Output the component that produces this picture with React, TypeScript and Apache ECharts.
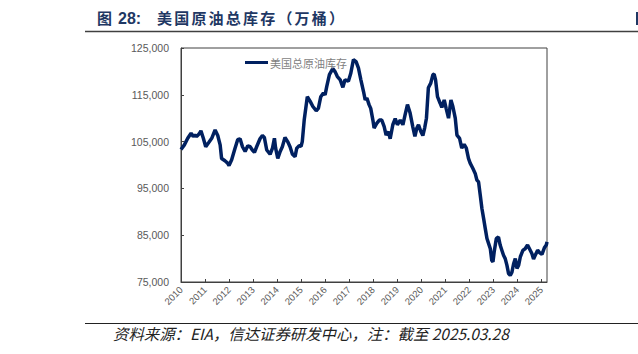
import React, { useEffect, useRef } from "react";
import * as echarts from "echarts";

const seriesName = "美国总原油库存";
const titlePrefix = "图";
const titleNumber = "28:";
const titleBody = "美国原油总库存（万桶）";
const footerText = "资料来源：EIA，信达证券研发中心，注：截至 2025.03.28";

const yTicks = { min: 75000, max: 125000, interval: 10000 };
const xRange = { min: 2010, max: 2025.24, interval: 1 };

// decimal year
const dates = [
  2010.0, 2010.14, 2010.28, 2010.42, 2010.51, 2010.58, 2010.65, 2010.75, 2010.83, 2010.93,
  2011.03, 2011.17, 2011.28, 2011.42, 2011.53, 2011.63, 2011.69, 2011.83, 2011.94, 2012.0,
  2012.11, 2012.25, 2012.36, 2012.46, 2012.56, 2012.67, 2012.78, 2012.88, 2012.97, 2013.06,
  2013.15, 2013.29, 2013.39, 2013.47, 2013.57, 2013.71, 2013.81, 2013.89, 2013.94, 2014.03,
  2014.13, 2014.22, 2014.33, 2014.44, 2014.54, 2014.64, 2014.75, 2014.82, 2014.92, 2015.0,
  2015.05, 2015.13, 2015.26, 2015.38, 2015.49, 2015.63, 2015.72, 2015.82, 2015.93, 2016.0,
  2016.07, 2016.18, 2016.32, 2016.42, 2016.51, 2016.63, 2016.74, 2016.83, 2016.97, 2017.07,
  2017.18, 2017.29, 2017.39, 2017.49, 2017.6, 2017.67, 2017.74, 2017.83, 2017.9, 2017.99,
  2018.04, 2018.15, 2018.26, 2018.36, 2018.46, 2018.54, 2018.64, 2018.71, 2018.82, 2018.92,
  2019.01, 2019.13, 2019.24, 2019.33, 2019.43, 2019.54, 2019.65, 2019.74, 2019.82, 2019.89,
  2019.99, 2020.07, 2020.15, 2020.22, 2020.3, 2020.4, 2020.49, 2020.54, 2020.6, 2020.68,
  2020.79, 2020.86, 2020.96, 2021.04, 2021.14, 2021.24, 2021.32, 2021.42, 2021.49, 2021.6,
  2021.69, 2021.79, 2021.88, 2021.97, 2022.04, 2022.15, 2022.25, 2022.32, 2022.39, 2022.46,
  2022.53, 2022.6, 2022.67, 2022.74, 2022.81, 2022.88, 2022.94, 2022.99, 2023.04, 2023.13,
  2023.22, 2023.29, 2023.36, 2023.43, 2023.5, 2023.57, 2023.64, 2023.71, 2023.78, 2023.85,
  2023.92, 2023.99, 2024.06, 2024.13, 2024.24, 2024.33, 2024.43, 2024.51, 2024.61, 2024.68,
  2024.75, 2024.85, 2024.93, 2025.03, 2025.13, 2025.21, 2025.24,
];

// 万桶
const stocks = [
  103300, 104300, 105700, 106800, 106100, 106400, 106100, 106600, 107300, 105700,
  103900, 104900, 105700, 107500, 106300, 104300, 101400, 100900, 100400, 99900,
  101100, 103600, 105400, 105600, 103900, 102900, 104100, 103900, 103200, 102700,
  103900, 105600, 106300, 105900, 103200, 102300, 103600, 105700, 103600, 101400,
  102900, 103900, 105900, 105000, 103900, 102300, 101800, 103600, 104100, 104000,
  105000, 109600, 114600, 113600, 112500, 111600, 112100, 114600, 115400, 115000,
  116800, 119300, 120600, 119900, 118900, 118200, 116600, 118200, 117900, 119600,
  122500, 122100, 120700, 118200, 115700, 113900, 114300, 112900, 112100, 109600,
  107900, 108900, 109600, 109600, 108200, 106400, 107100, 105600, 108600, 109900,
  108600, 109600, 108600, 110700, 112900, 111100, 108200, 106100, 107900, 108600,
  107100, 106300, 108000, 110000, 116500, 117500, 119300, 119400, 118200, 114600,
  113200, 112300, 113900, 112100, 110000, 113900, 112500, 110000, 106400, 105700,
  103600, 104400, 103600, 101400, 100400, 99300, 98200, 96800, 96400, 93600,
  90700, 88600, 86400, 84300, 83200, 82100, 79600, 79300, 81400, 84300,
  84600, 82900, 81800, 80700, 80000, 78600, 76800, 76400, 77100, 78900,
  80000, 77900, 78600, 80400, 81800, 82100, 82900, 82100, 81100, 79900,
  80700, 81800, 81300, 80900, 82300, 82900, 83600,
];

const titleStyle = {
  fill: "#1f3864",
  fontSize: 15,
  fontWeight: "bold",
  fontFamily: "Noto Sans CJK SC",
};

function buildTitle() {
  const els: any[] = [
    { type: "text", x: 97, y: 10, style: { ...titleStyle, text: titlePrefix } },
    { type: "text", x: 118, y: 10, style: { ...titleStyle, text: titleNumber, fontFamily: "Liberation Sans", fontSize: 16 } },
  ];
  Array.from(titleBody).forEach((ch, i) => {
    els.push({ type: "text", x: 157 + i * 17.2, y: 10, style: { ...titleStyle, text: ch } });
  });
  return els;
}

export default function App() {
  const ref = useRef<HTMLDivElement>(null);
  useEffect(() => {
    if (!ref.current) return;
    const chart = echarts.init(ref.current, undefined, { renderer: "svg" });
    const data = dates.map((d, i) => [d, stocks[i]]);
    chart.setOption({
      animation: false,
      backgroundColor: "#ffffff",
      grid: {
        left: 181,
        right: 91,
        top: 48,
        bottom: 72,
        show: true,
        borderColor: "#404040",
        borderWidth: 1,
        backgroundColor: "transparent",
      },
      legend: {
        show: true,
        left: 240,
        top: 52,
        itemWidth: 23,
        itemHeight: 3,
        itemGap: 4,
        icon: "rect",
        textStyle: {
          color: "#7f7f7f",
          fontSize: 11,
          fontFamily: "Noto Sans CJK SC",
          padding: [0, 0, 0, -3],
        },
        data: [seriesName],
      },
      xAxis: {
        type: "value",
        min: xRange.min,
        max: xRange.max,
        interval: xRange.interval,
        splitLine: { show: false },
        axisLine: { show: true, lineStyle: { color: "#404040", width: 1 } },
        axisTick: { show: true, inside: true, length: 3, lineStyle: { color: "#404040" } },
        axisLabel: {
          rotate: 45,
          color: "#595959",
          fontSize: 9.5,
          fontFamily: "Liberation Sans",
          margin: 6,
          showMaxLabel: false,
          formatter: (v: number) => (Number.isInteger(v) ? String(v) : ""),
        },
      },
      yAxis: {
        type: "value",
        min: yTicks.min,
        max: yTicks.max,
        interval: yTicks.interval,
        splitLine: { show: false },
        axisLine: { show: true, lineStyle: { color: "#404040", width: 1 } },
        axisTick: { show: true, inside: true, length: 3, lineStyle: { color: "#404040" } },
        axisLabel: {
          color: "#595959",
          fontSize: 10.5,
          fontFamily: "Liberation Sans",
          margin: 12,
          formatter: (v: number) => v.toLocaleString("en-US"),
        },
      },
      series: [
        {
          name: seriesName,
          type: "line",
          data,
          symbol: "none",
          lineStyle: { color: "#002060", width: 3.5 },
          itemStyle: { color: "#002060" },
          clip: false,
        },
      ],
      graphic: [
        ...buildTitle(),
        {
          type: "line",
          shape: { x1: 85, y1: 31.5, x2: 638, y2: 31.5 },
          style: { stroke: "#404040", lineWidth: 1.5 },
        },
        {
          type: "rect",
          shape: { x: 636, y: 12, width: 2, height: 13 },
          style: { fill: "#1f3864" },
        },
        {
          type: "line",
          shape: { x1: 85, y1: 323.5, x2: 638, y2: 323.5 },
          style: { stroke: "#222222", lineWidth: 1 },
        },
        {
          type: "text",
          left: 113,
          top: 325,
          style: {
            text: footerText,
            fill: "#222222",
            fontSize: 15.4,
            fontStyle: "italic",
            fontFamily: "Noto Sans CJK SC",
          },
        },
      ],
    });
    return () => chart.dispose();
  }, []);
  return (
    <div
      ref={ref}
      style={{ position: "fixed", left: 0, top: 0, width: 638, height: 354 }}
    />
  );
}
